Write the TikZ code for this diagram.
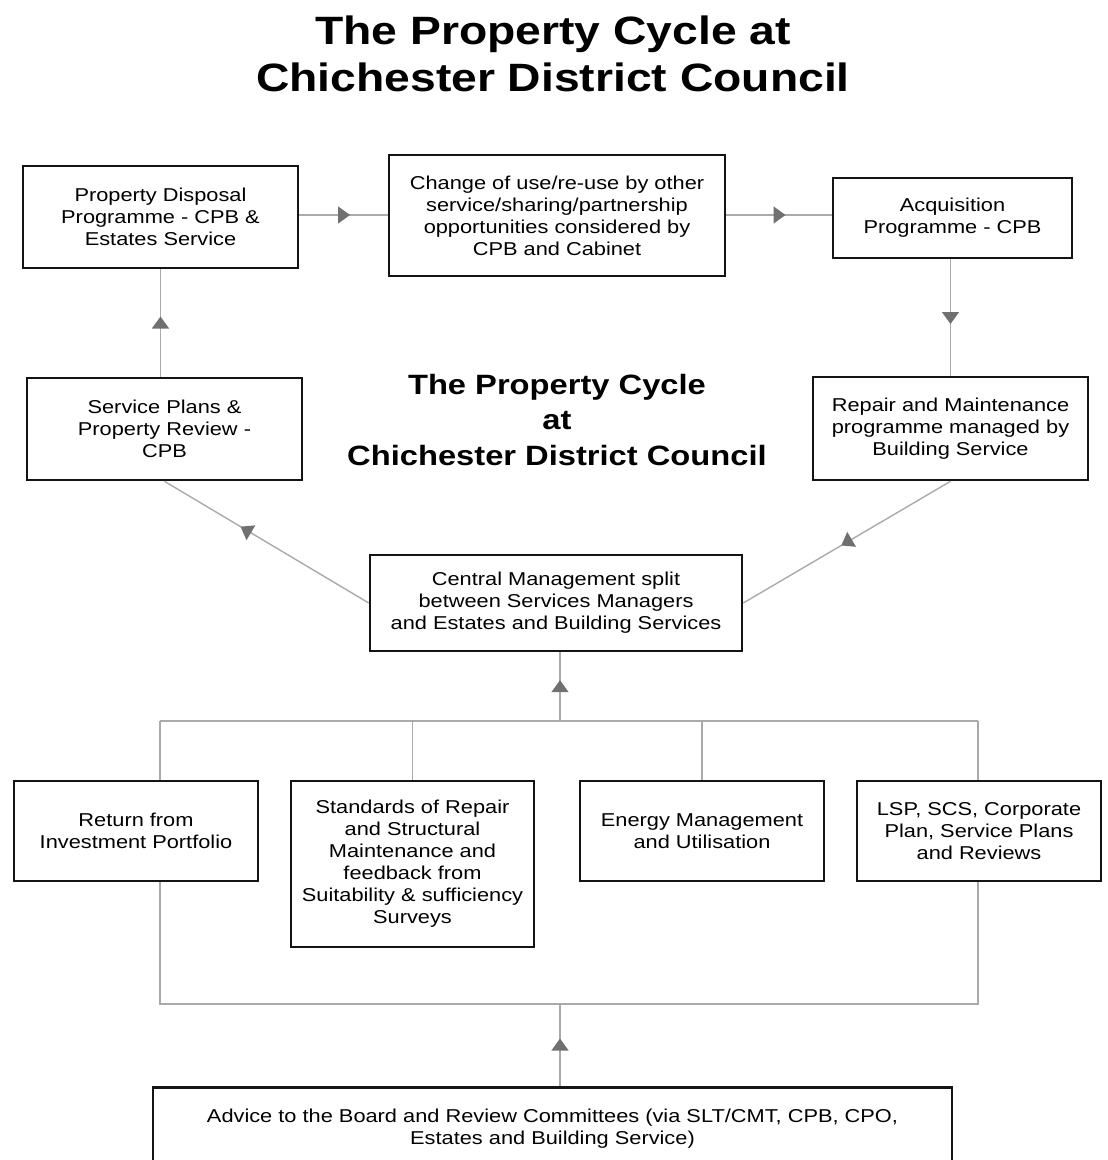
\documentclass[tikz,border=0pt]{standalone}
\usepackage{fontspec}
\setmainfont{Liberation Sans}[FakeStretch=1.17]
\usepackage{tikz}
\usetikzlibrary{arrows.meta,positioning,decorations.markings}
\definecolor{pclink}{RGB}{170,170,170}
\definecolor{pcarrow}{RGB}{112,112,112}
\definecolor{pcbox}{RGB}{20,20,20}

\begin{document}
\begin{tikzpicture}[x=0.02cm,y=-0.02cm,
  box/.style={draw=pcbox, line width=1.5pt, align=center, inner sep=0pt,
    font=\fontsize{10.6}{12.5}\selectfont},
  link/.style={draw=pclink, line width=0.8pt},
  flow/.style={link, postaction={decorate}, decoration={markings,
    mark=at position #1 with {\arrow[xshift=0.13cm]{Triangle[width=0.34cm,length=0.24cm,color=pcarrow]}}}},
  flow/.default=0.5]
\useasboundingbox (0,0) rectangle (1108,1160);
% Titles
\node[align=center, font=\fontsize{22.5}{26.8}\selectfont\bfseries] (title) at (553,54)
  {The Property Cycle at\\Chichester District Council};
\node[align=center, font=\fontsize{15.9}{20}\selectfont\bfseries] (midtitle) at (557,420)
  {The Property Cycle\\at\\Chichester District Council};
% Top row
\node[box, minimum width=5.5cm, minimum height=2.04cm] (disp) at (160.5,217)
  {Property Disposal\\Programme - CPB \&\\Estates Service};
\node[box, minimum width=6.72cm, minimum height=2.42cm] (change) at (557,215.5)
  {Change of use/re-use by other\\service/sharing/partnership\\opportunities considered by\\CPB and Cabinet};
\node[box, minimum width=4.78cm, minimum height=1.6cm] (acq) at (952.5,218)
  {Acquisition\\Programme - CPB};
% Second row
\node[box, minimum width=5.5cm, minimum height=2.04cm] (serv) at (164.5,429)
  {Service Plans \&\\Property Review -\\CPB};
\node[box, minimum width=5.5cm, minimum height=2.06cm] (repair) at (950.5,428.5)
  {Repair and Maintenance\\programme managed by\\Building Service};
% Centre
\node[box, minimum width=7.44cm, minimum height=1.92cm] (central) at (556,603)
  {Central Management split\\between Services Managers\\and Estates and Building Services};
% Inputs
\node[box, minimum width=4.88cm, minimum height=2cm] (ret) at (136,831)
  {Return from\\Investment Portfolio};
\node[box, minimum width=4.86cm, minimum height=3.32cm] (std) at (412.5,864)
  {Standards of Repair\\and Structural\\Maintenance and\\feedback from\\Suitability \& sufficiency\\Surveys};
\node[box, minimum width=4.88cm, minimum height=2cm] (energy) at (702,831)
  {Energy Management\\and Utilisation};
\node[box, minimum width=4.88cm, minimum height=2cm] (lsp) at (979,831)
  {LSP, SCS, Corporate\\Plan, Service Plans\\and Reviews};
\node[box, minimum width=15.98cm, minimum height=1.66cm] (advice) at (552.5,1129)
  {Advice to the Board and Review Committees (via SLT/CMT, CPB, CPO,\\Estates and Building Service)};
% Cycle
\draw[flow] (disp.east |- 0,215) -- (change.west |- 0,215);
\draw[flow] (change.east |- 0,215) -- (acq.west |- 0,215);
\draw[flow] (repair.north |- acq.south) -- (repair.north);
\draw[flow] (repair.south) -- (central.east);
\draw[flow=0.6] (central.west) -- (serv.south);
\draw[flow] (serv.north -| disp.south) -- (disp.south);
% Upper bus
\coordinate (tl) at (160,721);
\coordinate (tr) at (978,721);
\coordinate (tm) at (560,721);
\draw[link] (tl) -- (tr);
\draw[link] (tl) -- (tl |- ret.north);
\draw[link] (std.north) -- (std.north |- tl);
\draw[link] (energy.north) -- (energy.north |- tl);
\draw[link] (tr) -- (tr |- lsp.north);
\draw[flow] (tm) -- (tm |- central.south);
% Lower bus
\coordinate (bl) at (160,1004);
\coordinate (br) at (978,1004);
\coordinate (bm) at (560,1004);
\draw[link] (bl |- ret.south) -- (bl) -- (br) -- (br |- lsp.south);
\draw[flow] (bm |- advice.north) -- (bm);
\end{tikzpicture}
\end{document}
